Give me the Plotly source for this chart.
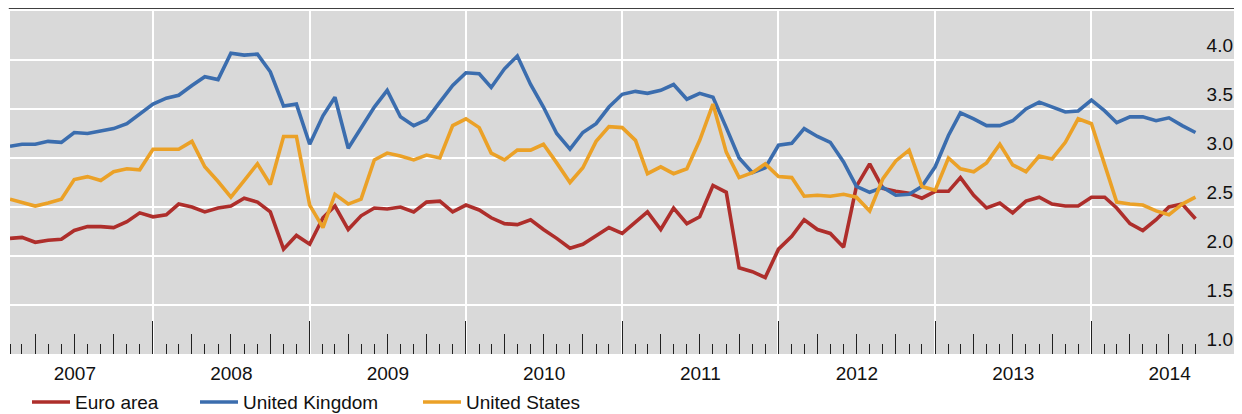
import pandas as pd
import plotly.graph_objects as go

# Monthly data, Feb 2007 - Sep 2014
start_month = "2007-02-01"
n_months = 92
months = pd.date_range(start_month, periods=n_months, freq="MS")

euro_area = [
    2.18, 2.19, 2.14, 2.16, 2.17, 2.26, 2.30, 2.30, 2.29, 2.35, 2.44, 2.40, 2.42, 2.53, 2.50, 2.45,
    2.49, 2.51, 2.59, 2.55, 2.45, 2.07, 2.21, 2.12, 2.39, 2.51, 2.27, 2.41, 2.49, 2.48, 2.50, 2.45,
    2.55, 2.56, 2.45, 2.52, 2.47, 2.39, 2.33, 2.32, 2.37, 2.27, 2.18, 2.08, 2.12, 2.21, 2.29, 2.23,
    2.35, 2.45, 2.27, 2.49, 2.33, 2.40, 2.72, 2.65, 1.88, 1.84, 1.78, 2.07, 2.20, 2.37, 2.27,
    2.23, 2.09, 2.71, 2.94, 2.69, 2.66, 2.64, 2.59, 2.66, 2.66, 2.80, 2.62, 2.49, 2.54, 2.44, 2.56,
    2.60, 2.53, 2.51, 2.51, 2.60, 2.60, 2.49, 2.33, 2.26, 2.37, 2.50, 2.53, 2.38,
]
united_kingdom = [
    3.12, 3.14, 3.14, 3.17, 3.16, 3.26, 3.25, 3.28, 3.30, 3.35, 3.45, 3.55, 3.61, 3.64, 3.74, 3.83,
    3.80, 4.07, 4.05, 4.06, 3.88, 3.53, 3.55, 3.14, 3.43, 3.62, 3.10, 3.30, 3.52, 3.69, 3.42, 3.33,
    3.39, 3.57, 3.74, 3.87, 3.86, 3.72, 3.91, 4.04, 3.75, 3.52, 3.25, 3.09, 3.26, 3.35, 3.52, 3.65,
    3.68, 3.66, 3.69, 3.75, 3.60, 3.66, 3.62, 3.31, 3.00, 2.85, 2.90, 3.13, 3.15, 3.30, 3.22,
    3.16, 2.96, 2.71, 2.65, 2.70, 2.62, 2.63, 2.71, 2.91, 3.23, 3.46, 3.40, 3.33, 3.33, 3.38, 3.50,
    3.57, 3.52, 3.47, 3.48, 3.59, 3.48, 3.36, 3.42, 3.42, 3.38, 3.41, 3.33, 3.26,
]
united_states = [
    2.58, 2.55, 2.51, 2.54, 2.58, 2.78, 2.81, 2.77, 2.86, 2.89, 2.88, 3.09, 3.09, 3.09, 3.17, 2.91,
    2.76, 2.60, 2.77, 2.94, 2.73, 3.22, 3.22, 2.52, 2.29, 2.63, 2.53, 2.58, 2.98, 3.05, 3.02, 2.98,
    3.03, 3.00, 3.33, 3.40, 3.31, 3.05, 2.98, 3.08, 3.08, 3.14, 2.95, 2.75, 2.90, 3.17, 3.32, 3.31,
    3.18, 2.84, 2.91, 2.84, 2.89, 3.18, 3.55, 3.06, 2.80, 2.85, 2.94, 2.81, 2.80, 2.61, 2.62,
    2.61, 2.63, 2.60, 2.46, 2.79, 2.97, 3.08, 2.71, 2.67, 3.00, 2.89, 2.86, 2.95, 3.14, 2.93, 2.86,
    3.02, 2.99, 3.16, 3.40, 3.35, 2.93, 2.55, 2.53, 2.52, 2.46, 2.42, 2.53, 2.60,
]

series_names = ["Euro area", "United Kingdom", "United States"]
series_colors = ["#AE2E2B", "#3B6DAE", "#EBA127"]
y_ticks = [1.0, 1.5, 2.0, 2.5, 3.0, 3.5, 4.0]
x_range = ["2007-02-01", "2014-12-14"]
y_range = [1.0, 4.5]

FONT = "Arial, Liberation Sans, sans-serif"
# page body has an 8px default margin; size the figure so it fits the 1242x414 window
OFF = 8
W, H = 1242 - OFF, 414 - OFF
ML, MR, MT, MB = 10 - OFF, 2, 11 - OFF, 60
plot_w = W - ML - MR

fig = go.Figure()
legend_ids = ["legend", "legend2", "legend3"]
for name, vals, col, lg in zip(series_names, [euro_area, united_kingdom, united_states],
                               series_colors, legend_ids):
    fig.add_trace(go.Scatter(x=months, y=vals, mode="lines", name=name, legend=lg,
                             line=dict(color=col, width=3.6)))

# invisible helper trace so the quarterly tick axis is drawn
fig.add_trace(go.Scatter(x=[], y=[], xaxis="x2", yaxis="y", showlegend=False, hoverinfo="skip"))

legend_px = [27, 195, 418]  # left edge of each legend entry, in window pixels
def legend_cfg(px):
    return dict(orientation="h", x=(px - OFF - ML) / plot_w, xanchor="left", y=-0.085, yanchor="top",
                font=dict(size=19, color="#111111", family=FONT), bgcolor="rgba(0,0,0,0)",
                itemwidth=38)

tick_style = dict(ticks="inside", tickwidth=1.4, tickcolor="#222222")

fig.update_layout(
    width=W, height=H,
    margin=dict(l=ML, r=MR, t=MT, b=MB, autoexpand=False),
    paper_bgcolor="white",
    plot_bgcolor="#D9D9D9",
    font=dict(family=FONT, size=19, color="#111111"),
    showlegend=True,
    legend=legend_cfg(legend_px[0]),
    legend2=legend_cfg(legend_px[1]),
    legend3=legend_cfg(legend_px[2]),
    xaxis=dict(
        type="date", range=x_range, automargin=False,
        anchor="free", position=0,
        tick0="2007-01-01", dtick="M12", tickformat="%Y", ticklabelmode="period",
        ticklen=33, **tick_style,
        showgrid=True, gridcolor="white", gridwidth=2,
        showline=False, zeroline=False,
        tickfont=dict(size=19, color="#111111"),
        ticklabelstandoff=6,
        minor=dict(dtick="M1", tick0="2007-01-01", ticklen=10, showgrid=False, **tick_style),
        layer="above traces",
    ),
    xaxis2=dict(
        type="date", range=x_range, overlaying="x", anchor="free", position=0,
        automargin=False,
        tick0="2007-01-01", dtick="M3", ticklen=20, **tick_style,
        showticklabels=False, showgrid=False, showline=False, zeroline=False,
    ),
    yaxis=dict(
        range=y_range, side="right", automargin=False,
        anchor="free", position=1,
        tickvals=y_ticks, tickformat=".1f",
        ticklabelposition="inside top",
        ticklabelstandoff=4, ticklabelshift=-1,
        showgrid=True, gridcolor="white", gridwidth=2,
        showline=False, zeroline=False, ticks="",
        tickfont=dict(size=19, color="#111111"),
    ),
    shapes=[dict(type="line", xref="paper", yref="paper", x0=-0.001, x1=1.002,
                 y0=1.009, y1=1.009, line=dict(color="black", width=1.5))],
)

fig.write_html("out.html")
